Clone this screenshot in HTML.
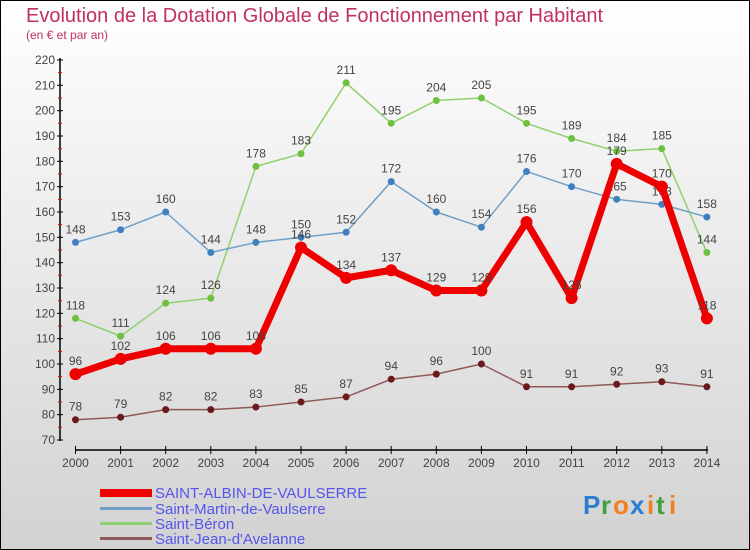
<!DOCTYPE html>
<html><head><meta charset="utf-8"><style>
body{margin:0}
#c{width:750px;height:550px;position:relative;overflow:hidden;font-family:"Liberation Sans",sans-serif}
</style></head><body>
<div id="c">
<svg id="s" width="750" height="550" xmlns="http://www.w3.org/2000/svg">
<defs><linearGradient id="bg" x1="0" y1="0" x2="0" y2="1"><stop offset="0" stop-color="#ffffff"/><stop offset="1" stop-color="#d2d2d2"/></linearGradient></defs>
<rect x="0.5" y="0.5" width="749" height="549" fill="url(#bg)" stroke="#000"/>
<text x="26" y="22" font-size="20" fill="#c03060">Evolution de la Dotation Globale de Fonctionnement par Habitant</text>
<text x="26" y="39" font-size="12" fill="#c03060">(en € et par an)</text>
<g id="axes"></g><g id="series"></g>
<g>
<rect x="100" y="489" width="52" height="8" fill="#e00"/>
<text x="155" y="498" font-size="15" fill="#5555ee">SAINT-ALBIN-DE-VAULSERRE</text>
<rect x="100" y="507" width="52" height="3" fill="#70a0c8"/>
<text x="155" y="514" font-size="15" fill="#5555ee">Saint-Martin-de-Vaulserre</text>
<rect x="100" y="522" width="52" height="3" fill="#90d070"/>
<text x="155" y="529" font-size="15" fill="#5555ee">Saint-Béron</text>
<rect x="100" y="537" width="52" height="3" fill="#905858"/>
<text x="155" y="544" font-size="15" fill="#5555ee">Saint-Jean-d'Avelanne</text>
</g>
<g font-size="26" font-weight="bold">
<text x="583" y="514" fill="#2a7fd0">P</text><text x="601" y="514" fill="#40a040">r</text><text x="613" y="514" fill="#f08020">o</text><text x="630" y="514" fill="#2a7fd0">x</text><text x="647" y="514" fill="#f08020">i</text><text x="656" y="514" fill="#40a040">t</text><text x="669" y="514" fill="#f08020">i</text>
</g>
</svg>
</div>
<script>
const years=[2000,2001,2002,2003,2004,2005,2006,2007,2008,2009,2010,2011,2012,2013,2014];
const yTicks=[70,80,90,100,110,120,130,140,150,160,170,180,190,200,210,220];
const albin=[96,102,106,106,106,146,134,137,129,129,156,126,179,170,118];
const martin=[148,153,160,144,148,150,152,172,160,154,176,170,165,163,158];
const beron=[118,111,124,126,178,183,211,195,204,205,195,189,184,185,144];
const jean=[78,79,82,82,83,85,87,94,96,100,91,91,92,93,91];
const NS="http://www.w3.org/2000/svg";
function X(i){return 75.5+i*45.1;}
function Y(v){return 440-(v-70)*380/150;}
function mk(t,a,p){const e=document.createElementNS(NS,t);for(const k in a)e.setAttribute(k,a[k]);p.appendChild(e);return e;}
const ax=document.getElementById('axes');
const yl=mk('line',{x1:60,y1:58,x2:60,y2:441,stroke:'#000','stroke-width':1.5},ax);


yTicks.forEach(v=>{
 mk('line',{x1:57,x2:63,y1:Y(v),y2:Y(v),stroke:'#000'},ax);
 if(v<220)mk('line',{x1:58,x2:62,y1:Y(v+5),y2:Y(v+5),stroke:'#e00'},ax);
 const t=mk('text',{x:55,y:Y(v)+4,'font-size':12,fill:'#444','text-anchor':'end'},ax);t.textContent=v;
 
 
});
const xl=mk('line',{x1:75,y1:450,x2:708,y2:450,stroke:'#000','stroke-width':1.5},ax);


years.forEach((y,i)=>{
 mk('line',{x1:X(i),x2:X(i),y1:446,y2:454,stroke:'#000'},ax);
 const t=mk('text',{x:X(i),y:467,'font-size':12,fill:'#444','text-anchor':'middle'},ax);t.textContent=y;
 
 
});
const sg=document.getElementById('series');
function draw(vals,color,w,r,name,dot){
 const g=mk('g',{},sg);
 
 
 const pl=mk('polyline',{points:vals.map((v,i)=>X(i)+','+Y(v)).join(' '),fill:'none',stroke:color,'stroke-width':w,'stroke-linejoin':'round'},g);
 
 
 vals.forEach((v,i)=>{
  const c=mk('circle',{cx:X(i),cy:Y(v),r:r,fill:dot},g);
  
  
  const t=mk('text',{x:X(i),y:Y(v)-9,'font-size':12,fill:'#444','text-anchor':'middle'},g);t.textContent=v;
  
  
 });
}
draw(jean,'#905858',1.5,3.5,'series-saint-jean','#6a1a1a');
draw(beron,'#90d070',1.5,3.5,'series-saint-beron','#70c040');
draw(martin,'#70a0c8',1.5,3.5,'series-saint-martin','#4080c0');
draw(albin,'#e00',7,6,'series-saint-albin','#e00');
</script>
</body></html>
